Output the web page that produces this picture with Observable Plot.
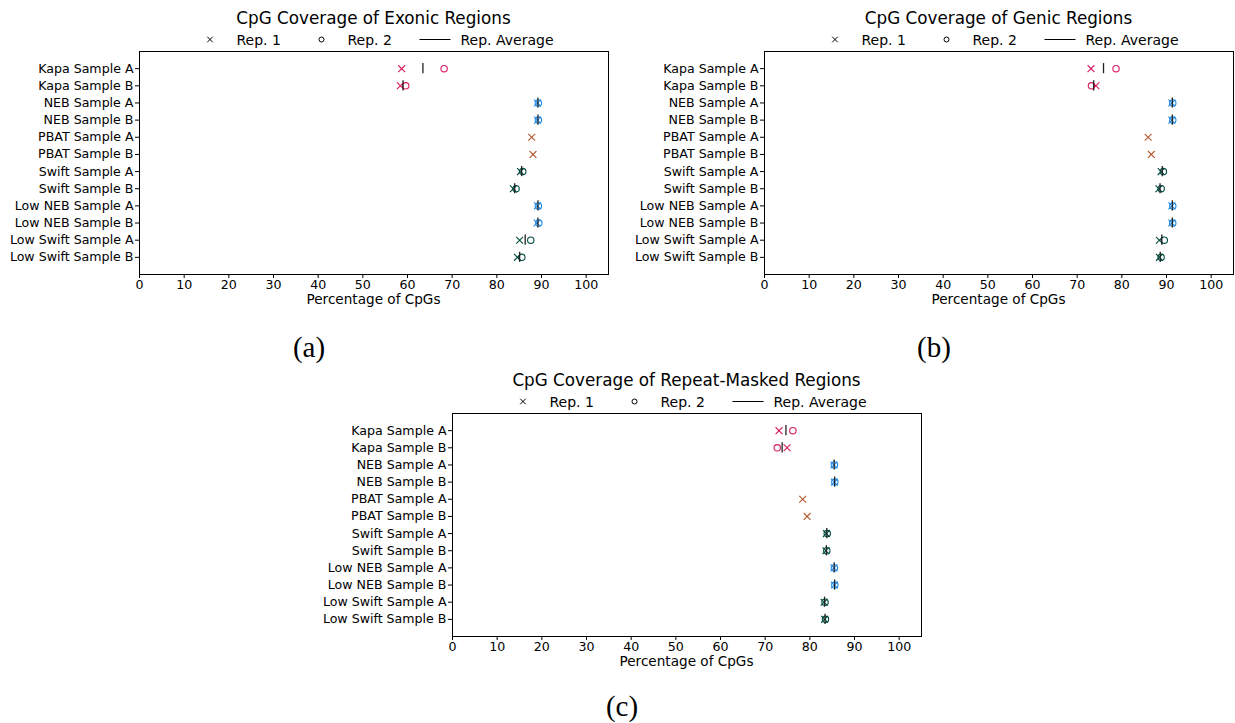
<!DOCTYPE html>
<html>
<head>
<meta charset="utf-8">
<script src="https://cdn.jsdelivr.net/npm/d3@7"></script>
<script src="https://cdn.jsdelivr.net/npm/@observablehq/plot@0.6"></script>
<style>
  html, body { margin: 0; padding: 0; background: #fff; }
  #page { position: relative; width: 1235px; height: 723px; overflow: hidden;
          font-family: "DejaVu Sans", sans-serif; color: #000; }
  .title { position: absolute; font-size: 16.8px; white-space: nowrap; transform: translate(-50%, -50%); }
  .xlabel { position: absolute; font-size: 13.6px; white-space: nowrap; transform: translate(-50%, -50%); }
  .legend { position: absolute; }
  .sub { position: absolute; font-family: "Liberation Serif", serif; font-size: 29px;
         white-space: nowrap; transform: translate(-50%, -50%); }
  .panel { position: absolute; }
</style>
</head>
<body>
<div id="page"></div>
<script>
// Library preparation samples, top to bottom
const categories = [
  "Kapa Sample A", "Kapa Sample B",
  "NEB Sample A", "NEB Sample B",
  "PBAT Sample A", "PBAT Sample B",
  "Swift Sample A", "Swift Sample B",
  "Low NEB Sample A", "Low NEB Sample B",
  "Low Swift Sample A", "Low Swift Sample B"
];
const sampleKit = ["Kapa", "Kapa", "NEB", "NEB", "PBAT", "PBAT", "Swift", "Swift", "NEB", "NEB", "Swift", "Swift"];
const kitColors = { Kapa: "#D81B60", NEB: "#1E88E5", PBAT: "#B5592F", Swift: "#004D40" };
const xTicks = [0, 10, 20, 30, 40, 50, 60, 70, 80, 90, 100];

// Percentage of CpGs covered (PBAT has a single replicate)
const exonicRep1 = [58.7, 58.4, 89.1, 89.1, 87.8, 88.1, 85.3, 83.7, 89.1, 89.0, 85.1, 84.6];
const exonicRep2 = [68.2, 59.6, 89.3, 89.3, null, null, 85.8, 84.3, 89.3, 89.4, 87.6, 85.6];

const genicRep1 = [73.1, 74.2, 91.2, 91.2, 85.9, 86.6, 88.8, 88.3, 91.2, 91.2, 88.4, 88.4];
const genicRep2 = [78.7, 73.2, 91.4, 91.4, null, null, 89.3, 88.8, 91.4, 91.4, 89.5, 88.8];

const repeatRep1 = [73.1, 74.9, 85.4, 85.5, 78.4, 79.4, 83.7, 83.6, 85.4, 85.5, 83.2, 83.3];
const repeatRep2 = [76.2, 72.7, 85.5, 85.6, null, null, 83.9, 83.8, 85.5, 85.6, 83.4, 83.5];

const page = document.getElementById("page");

function rows(rep1, rep2) {
  return categories.map((sample, i) => ({
    sample,
    kit: sampleKit[i],
    rep1: rep1[i],
    rep2: rep2[i],
    avg: rep2[i] == null ? null : (rep1[i] + rep2[i]) / 2
  }));
}

function coveragePlot(rep1, rep2) {
  const data = rows(rep1, rep2);
  const paired = data.filter(d => d.rep2 != null);
  const color = d => kitColors[d.kit];
  return Plot.plot({
    width: 610,
    height: 250,
    marginLeft: 139,
    marginRight: 2,
    marginTop: 5,
    marginBottom: 22,
    style: { fontFamily: "DejaVu Sans", fontSize: "12.6px", color: "#000", background: "transparent", overflow: "visible" },
    x: { domain: [0, 105] },
    y: { type: "band", domain: categories, paddingInner: 0, paddingOuter: 0.5, round: false },
    color: { type: "identity" },
    marks: [
      Plot.frame({ stroke: "#000", strokeWidth: 1 }),
      Plot.axisY({ tickSize: 4, tickPadding: 2, label: null, fontSize: 12.6 }),
      Plot.axisX({ ticks: xTicks, tickSize: 4, tickPadding: 2, fontSize: 12.6, label: null }),
      Plot.dot(data, { x: "rep1", y: "sample", symbol: "times", r: 3.2, stroke: color, strokeWidth: 1.1 }),
      Plot.dot(paired, { x: "rep2", y: "sample", symbol: "circle", r: 3.2, fill: "none", stroke: color, strokeWidth: 1.1 }),
      Plot.tickX(paired, { x: "avg", y: "sample", stroke: "#222", strokeWidth: 1.3, insetTop: 3.5, insetBottom: 3.5 })
    ]
  });
}

function legend(cx, cy) {
  const w = 420, h = 20, ox = 200;
  const svg = d3.create("svg").attr("class", "legend").attr("width", w).attr("height", h)
    .style("left", (cx - ox) + "px").style("top", (cy - h / 2) + "px");
  const my = 10.5;
  svg.append("path").attr("d", d3.symbol(d3.symbolTimes, 22)())
    .attr("transform", `translate(${ox - 164},${my})`).attr("stroke", "#000").attr("fill", "none").attr("stroke-width", 1);
  svg.append("circle").attr("cx", ox - 52.5).attr("cy", my).attr("r", 2.5)
    .attr("stroke", "#000").attr("fill", "none").attr("stroke-width", 1);
  svg.append("line").attr("x1", ox + 45.5).attr("x2", ox + 76.5).attr("y1", my).attr("y2", my)
    .attr("stroke", "#000").attr("stroke-width", 1);
  const labels = [["Rep. 1", -137.5], ["Rep. 2", -26.5], ["Rep. Average", 86.5]];
  for (const [t, dx] of labels) {
    svg.append("text").attr("x", ox + dx).attr("y", my).attr("dy", "0.36em")
      .attr("font-family", "DejaVu Sans").attr("font-size", 14).text(t);
  }
  page.appendChild(svg.node());
}

function addText(cls, text, x, y) {
  const el = document.createElement("div");
  el.className = cls;
  el.textContent = text;
  el.style.left = x + "px";
  el.style.top = y + "px";
  page.appendChild(el);
}

function addPanel(title, rep1, rep2, left, frameTop, subLabel, subX, subY) {
  const node = coveragePlot(rep1, rep2);
  node.classList.add("panel");
  node.style.left = left + "px";
  node.style.top = (frameTop - 5) + "px";
  page.appendChild(node);
  const cx = left + 139 + 469 / 2;
  addText("title", title, cx, frameTop - 33);
  legend(cx, frameTop - 12);
  addText("xlabel", "Percentage of CpGs", cx, frameTop + 248);
  addText("sub", subLabel, subX, subY);
}

addPanel("CpG Coverage of Exonic Regions", exonicRep1, exonicRep2, 0, 50.5, "(a)", 309, 347);
addPanel("CpG Coverage of Genic Regions", genicRep1, genicRep2, 625, 50.5, "(b)", 934, 347);
addPanel("CpG Coverage of Repeat-Masked Regions", repeatRep1, repeatRep2, 313, 412.5, "(c)", 622, 706);
</script>
</body>
</html>
